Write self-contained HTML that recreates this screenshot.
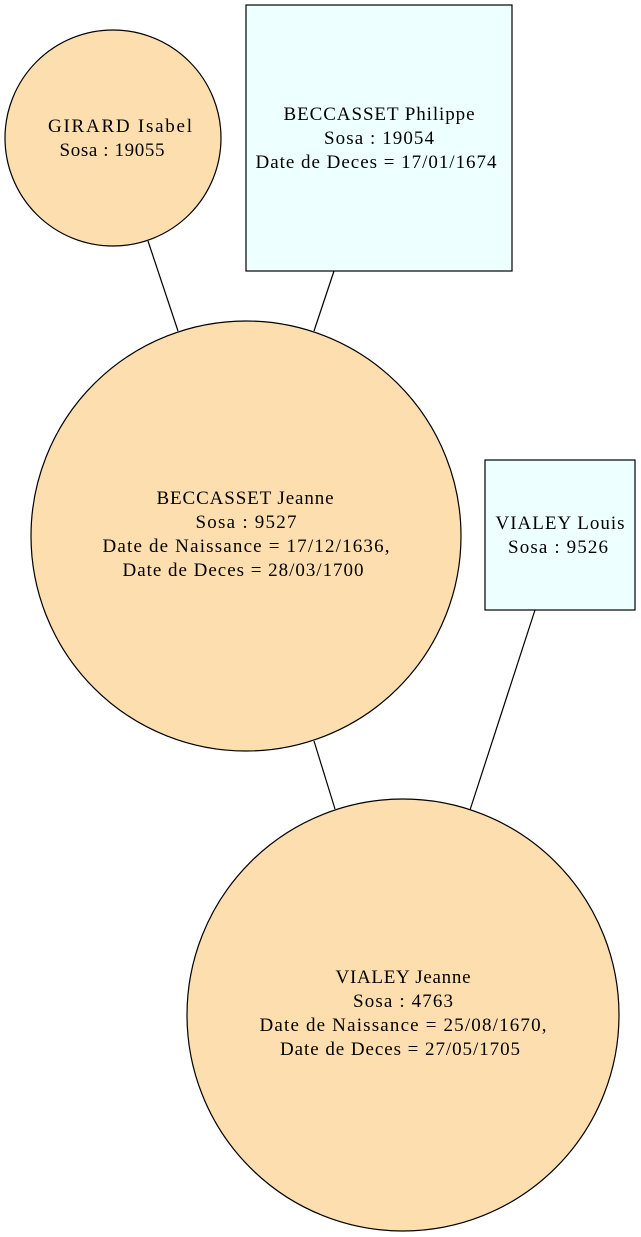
<!DOCTYPE html>
<html><head><meta charset="utf-8"><style>html,body{margin:0;padding:0;background:#fff}svg{display:block}</style></head>
<body>
<svg width="641" height="1237" viewBox="0 0 641 1237" xmlns="http://www.w3.org/2000/svg" font-family="'Liberation Serif', serif" font-size="19" text-anchor="middle">
<g stroke="#000" stroke-width="1.2" fill="none">
<line x1="148" y1="241" x2="178" y2="331"/>
<line x1="334" y1="271" x2="314" y2="331"/>
<line x1="314" y1="741" x2="335" y2="809"/>
<line x1="535" y1="610" x2="470" y2="810"/>
</g>
<g stroke="#000" stroke-width="1.2">
<circle cx="113" cy="138" r="108" fill="#fddeae"/>
<rect x="246" y="5" width="266" height="266" fill="#eeffff"/>
<circle cx="246" cy="536" r="215" fill="#fddeae"/>
<rect x="485" y="460" width="150" height="150" fill="#eeffff"/>
<circle cx="403" cy="1015" r="216" fill="#fddeae"/>
</g>
<g fill="#000" lengthAdjust="spacing">
<text x="120" y="132" textLength="144" lengthAdjust="spacing">GIRARD Isabel</text>
<text x="112" y="156" textLength="105" lengthAdjust="spacing">Sosa : 19055</text>
<text x="379" y="120" textLength="191" lengthAdjust="spacing">BECCASSET Philippe</text>
<text x="379" y="144" textLength="110" lengthAdjust="spacing">Sosa : 19054</text>
<text x="376" y="168" textLength="241" lengthAdjust="spacing">Date de Deces = 17/01/1674</text>
<text x="245" y="504" textLength="177" lengthAdjust="spacing">BECCASSET Jeanne</text>
<text x="246" y="528" textLength="101" lengthAdjust="spacing">Sosa : 9527</text>
<text x="246" y="552" textLength="287" lengthAdjust="spacing">Date de Naissance = 17/12/1636,</text>
<text x="243" y="576" textLength="241" lengthAdjust="spacing">Date de Deces = 28/03/1700</text>
<text x="560" y="529" textLength="129" lengthAdjust="spacing">VIALEY Louis</text>
<text x="558" y="553" textLength="100" lengthAdjust="spacing">Sosa : 9526</text>
<text x="403" y="983" textLength="135" lengthAdjust="spacing">VIALEY Jeanne</text>
<text x="403" y="1007" textLength="100" lengthAdjust="spacing">Sosa : 4763</text>
<text x="403" y="1031" textLength="287" lengthAdjust="spacing">Date de Naissance = 25/08/1670,</text>
<text x="400" y="1055" textLength="240" lengthAdjust="spacing">Date de Deces = 27/05/1705</text>
</g>
</svg>
</body></html>
